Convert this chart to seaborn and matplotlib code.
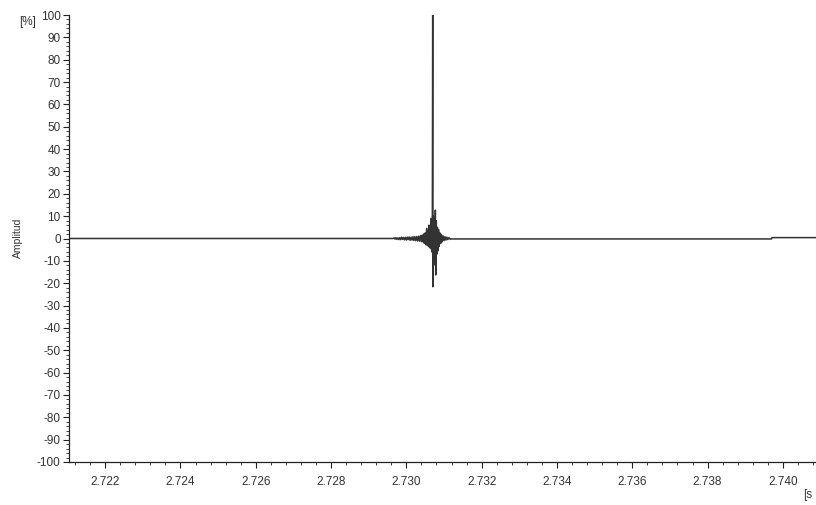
import numpy as np
import pandas as pd
import matplotlib
matplotlib.use("Agg")
import matplotlib.pyplot as plt
import seaborn as sns
from matplotlib.ticker import MultipleLocator, FormatStrFormatter

# ---- data ----
# baseline before the burst
pre_t = [2.72100, 2.72965]
pre_a = [0.0, 0.0]
# burst: time offsets from 2.730 s in microseconds, amplitude in %
burst_us = [-350, -325, -300, -275, -250, -225, -200, -175, -150, -125,
            -100, -75, -50, -25, 0, 25, 50, 75, 100, 125,
            150, 175, 200, 225, 250, 275, 300, 325, 350, 375,
            400, 420, 440, 460, 480, 500, 520, 540, 555, 570,
            585, 600, 615, 630, 645, 660, 675, 690, 700, 705,
            715, 725, 740, 755, 770, 780, 795, 810, 825, 840,
            855, 870, 890, 910, 930, 950, 975, 1000, 1025, 1050,
            1075, 1100, 1130, 1160, 1180]
burst_a = [0.0, 0.3, -0.3, 0.4, -0.4, 0.3, -0.5, 0.4, -0.5, 0.6,
           -0.4, 0.5, -0.6, 0.5, -0.7, 0.6, -0.5, 0.7, -0.8, 0.6,
           -0.7, 0.8, -0.9, 0.8, -1.0, 0.9, -1.1, 1.0, -1.2, 1.3,
           -1.4, 1.5, -1.5, 2.0, -2.2, 2.5, -2.8, 4.5, -3.0, 3.5,
           -3.5, 6.0, -4.0, 5.0, -4.5, 9.0, -6.0, 8.0, 100.0, -21.6,
           10.0, -12.0, 9.0, -10.0, 12.7, -16.3, 8.0, -7.0, 5.0, -5.5,
           4.0, -3.5, 2.5, -2.2, 1.8, -1.5, 1.2, -1.0, 0.8, -0.7,
           0.6, -0.5, 0.4, -0.3, -0.2]
# baseline after the burst (small step near 2.7397 s)
post_t = [2.73970, 2.73971, 2.74100]
post_a = [-0.2, 0.4, 0.4]

x_ticks = [2.722, 2.724, 2.726, 2.728, 2.730, 2.732, 2.734, 2.736, 2.738, 2.740]
y_ticks = list(range(-100, 101, 10))

t = pre_t + [2.730 + u * 1e-6 for u in burst_us] + post_t
a = pre_a + burst_a + post_a
df = pd.DataFrame({"t": t, "a": a})

# ---- style ----
sns.set_style("ticks")
plt.rcParams["font.family"] = ["Liberation Sans", "DejaVu Sans"]

fig = plt.figure(figsize=(8.16, 5.05), dpi=100)
ax = fig.add_axes([69 / 816, 43 / 505, 1 - 69 / 816, (462 - 15) / 505])

sns.lineplot(data=df, x="t", y="a", ax=ax, estimator=None, sort=False,
             color="#333333", linewidth=1.1)

ax.set_xlim(2.72104, 2.74088)
ax.set_ylim(-100, 100)
ax.set_xticks(x_ticks)
ax.set_yticks(y_ticks)
ax.xaxis.set_major_formatter(FormatStrFormatter("%.3f"))
ax.yaxis.set_major_formatter(FormatStrFormatter("%d"))
ax.xaxis.set_minor_locator(MultipleLocator(0.0004))
ax.yaxis.set_minor_locator(MultipleLocator(2))

for s in ["top", "right"]:
    ax.spines[s].set_visible(False)
for s in ["left", "bottom"]:
    ax.spines[s].set_color("#222222")
    ax.spines[s].set_linewidth(0.9)

ax.tick_params(axis="both", which="major", labelsize=8.5, colors="#222222",
               labelcolor="#333333", width=0.8)
ax.tick_params(axis="y", which="major", length=4, pad=2)
ax.tick_params(axis="x", which="major", length=4, pad=6)
ax.tick_params(axis="both", which="minor", length=2, width=0.6, colors="#222222")

ax.set_xlabel("")
ax.set_ylabel("")
fig.text(18 / 816, 1 - 238 / 505, "Amplitud", rotation=90, ha="center",
         va="center", fontsize=7.5, color="#333333")
fig.text(28 / 816, 1 - 22 / 505, "[%]", ha="center", va="center",
         fontsize=8.5, color="#333333")
fig.text(803 / 816, 1 - 495 / 505, "[s", ha="left", va="center",
         fontsize=8.5, color="#333333")

fig.savefig("out.png", dpi=100)
